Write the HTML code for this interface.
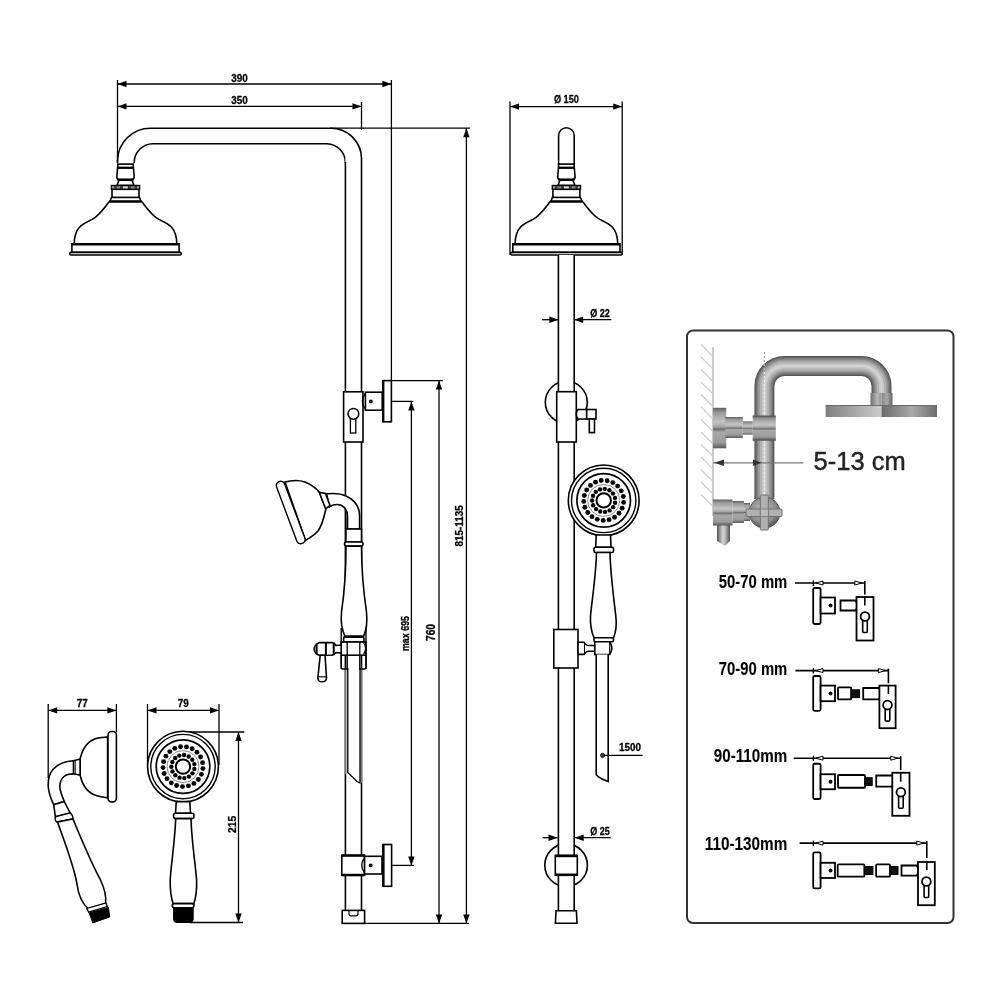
<!DOCTYPE html><html><head><meta charset="utf-8"><style>html,body{margin:0;padding:0;background:#fff}svg{display:block;will-change:transform}</style></head><body><svg width="1000" height="1000" viewBox="0 0 1000 1000">
<line x1="117.5" y1="84" x2="391.4" y2="84" stroke="#000" stroke-width="1.3"/>
<polygon points="117.50,84.00 126.50,80.80 126.50,87.20" fill="#000"/>
<polygon points="391.40,84.00 382.40,80.80 382.40,87.20" fill="#000"/>
<text x="239.5" y="81.6" font-family="Liberation Sans" font-size="11.5" font-weight="bold" text-anchor="middle" fill="#000" stroke="#000" stroke-width="0.3" textLength="16.5" lengthAdjust="spacingAndGlyphs">390</text>
<line x1="117.5" y1="106.4" x2="361.5" y2="106.4" stroke="#000" stroke-width="1.3"/>
<polygon points="117.50,106.40 126.50,103.20 126.50,109.60" fill="#000"/>
<polygon points="361.50,106.40 352.50,103.20 352.50,109.60" fill="#000"/>
<text x="239.5" y="103.8" font-family="Liberation Sans" font-size="11.5" font-weight="bold" text-anchor="middle" fill="#000" stroke="#000" stroke-width="0.3" textLength="16.5" lengthAdjust="spacingAndGlyphs">350</text>
<line x1="117.5" y1="80" x2="117.5" y2="162" stroke="#000" stroke-width="1.3"/>
<line x1="391.4" y1="80" x2="391.4" y2="381" stroke="#000" stroke-width="1.3"/>
<line x1="361.5" y1="102" x2="361.5" y2="130" stroke="#000" stroke-width="1.3"/>
<line x1="330" y1="128.2" x2="470" y2="128.2" stroke="#000" stroke-width="1.3"/>
<line x1="466.4" y1="128.2" x2="466.4" y2="923.4" stroke="#000" stroke-width="1.3"/>
<polygon points="466.40,128.20 463.20,137.20 469.60,137.20" fill="#000"/>
<polygon points="466.40,923.40 463.20,914.40 469.60,914.40" fill="#000"/>
<text x="463.4" y="525.9" font-family="Liberation Sans" font-size="11.8" font-weight="bold" text-anchor="middle" fill="#000" stroke="#000" stroke-width="0.3" textLength="41.4" lengthAdjust="spacingAndGlyphs" transform="rotate(-90 463.4 525.9)">815-1135</text>
<line x1="391.4" y1="380.6" x2="442.8" y2="380.6" stroke="#000" stroke-width="1.3"/>
<line x1="439" y1="380.6" x2="439" y2="923.4" stroke="#000" stroke-width="1.3"/>
<polygon points="439.00,380.60 435.80,389.60 442.20,389.60" fill="#000"/>
<polygon points="439.00,923.40 435.80,914.40 442.20,914.40" fill="#000"/>
<text x="434.8" y="632.5" font-family="Liberation Sans" font-size="12" font-weight="bold" text-anchor="middle" fill="#000" stroke="#000" stroke-width="0.3" textLength="17" lengthAdjust="spacingAndGlyphs" transform="rotate(-90 434.8 632.5)">760</text>
<line x1="391.4" y1="401.4" x2="413.4" y2="401.4" stroke="#000" stroke-width="1.3"/>
<line x1="411.4" y1="401.4" x2="411.4" y2="865.4" stroke="#000" stroke-width="1.3"/>
<polygon points="411.40,401.40 408.20,410.40 414.60,410.40" fill="#000"/>
<polygon points="411.40,865.40 408.20,856.40 414.60,856.40" fill="#000"/>
<text x="409.2" y="633.5" font-family="Liberation Sans" font-size="10.5" font-weight="bold" text-anchor="middle" fill="#000" stroke="#000" stroke-width="0.3" textLength="35" lengthAdjust="spacingAndGlyphs" transform="rotate(-90 409.2 633.5)">max 695</text>
<line x1="364.6" y1="923.4" x2="469" y2="923.4" stroke="#000" stroke-width="1.3"/>
<line x1="391.6" y1="865.4" x2="414" y2="865.4" stroke="#000" stroke-width="1.3"/>
<path d="M117.5,163 L117.5,161 A33,33 0 0 1 150.5,128.2 L331,128.2 A30.5,30.5 0 0 1 361.5,158.7" fill="none" stroke="#000" stroke-width="1.6" />
<path d="M134.2,163 L134.2,162.5 A19,19 0 0 1 153,143.7 L327,143.7 A19,19 0 0 1 345.4,162.7" fill="none" stroke="#000" stroke-width="1.6" />
<rect x="345.4" y="158" width="16.1" height="752" fill="#fff" stroke="none"/>
<line x1="345.4" y1="162" x2="345.4" y2="910.4" stroke="#000" stroke-width="1.6"/>
<line x1="361.5" y1="158" x2="361.5" y2="910.4" stroke="#000" stroke-width="1.6"/>
<rect x="345.4" y="668" width="2.4" height="106" fill="#bdbdbd"/>
<rect x="360" y="668" width="1.6" height="115" fill="#bdbdbd"/>
<path d="M347.8,668 L347.8,772.5 L357,781.5 L360,783 L360,668" fill="#fff" stroke="#000" stroke-width="1.3" />
<path d="M109.6,201.3 C105.5,206 99.5,215.5 92.1,219.4 C83.5,223.5 74.5,226.5 74.2,243.8 L176.8,243.8 C176.5,226.5 167.5,223.5 158.9,219.4 C151.5,215.5 145.5,206 141.4,201.3 Z" fill="#fff" stroke="#000" stroke-width="1.6"/>
<rect x="71.9" y="243.8" width="107.2" height="8.6" fill="#fff" stroke="#000" stroke-width="1.6"/>
<line x1="71.9" y1="244.2" x2="179.1" y2="244.2" stroke="#000" stroke-width="2.6"/>
<rect x="69.7" y="252.4" width="111.6" height="2.6" rx="1.3" fill="#fff" stroke="#000" stroke-width="1.6"/>
<path d="M111.5,197.2 L139.5,197.2 L141.1,201.6 L109.9,201.6 Z" fill="#fff" stroke="#000" stroke-width="1.6"/>
<line x1="110.0" y1="201.4" x2="141.0" y2="201.4" stroke="#000" stroke-width="2.2"/>
<rect x="112.0" y="189.3" width="27" height="8.1" fill="#fff" stroke="#000" stroke-width="1.6"/>
<rect x="111.3" y="185.4" width="28.4" height="3.9" fill="#3a3a3a" stroke="#000" stroke-width="1.2"/>
<rect x="112.3" y="186.4" width="1.6" height="2" fill="#bbb"/>
<rect x="116.5" y="186.4" width="3.6" height="2" fill="#8a8a8a"/>
<rect x="123.1" y="186.4" width="4.8" height="2" fill="#e2e2e2"/>
<rect x="130.9" y="186.4" width="3.6" height="2" fill="#8a8a8a"/>
<rect x="137.1" y="186.4" width="1.6" height="2" fill="#bbb"/>
<path d="M119.0,180.3 L132.0,180.3 L133.9,185.2 L117.1,185.2 Z" fill="#fff" stroke="#000" stroke-width="1.6"/>
<path d="M117.6,167.7 L133.4,167.7 L134.2,177 Q134.2,179.6 131.5,179.6 L119.5,179.6 Q116.8,179.6 116.8,177 Z" fill="#fff" stroke="#000" stroke-width="1.6"/>
<line x1="117.3" y1="179.6" x2="133.7" y2="179.6" stroke="#000" stroke-width="2"/>
<rect x="117.7" y="164.1" width="15.6" height="3.6" fill="#fff" stroke="#000" stroke-width="1.6"/>
<line x1="117.7" y1="167.7" x2="133.3" y2="167.7" stroke="#000" stroke-width="2"/>
<rect x="343.6" y="391.8" width="19.4" height="50.2" rx="0" fill="#fff" stroke="#000" stroke-width="1.6"/>
<rect x="350.4" y="417.8" width="5.4" height="15.2" rx="0" fill="#fff" stroke="#000" stroke-width="1.3"/>
<circle cx="353.4" cy="413.8" r="5.4" fill="#fff" stroke="#000" stroke-width="1.5"/>
<rect x="365.4" y="392.2" width="16.8" height="18.0" rx="0" fill="#fff" stroke="#000" stroke-width="1.6"/>
<path d="M365.4,393.5 Q359.2,401.2 365.4,409" fill="none" stroke="#000" stroke-width="1.3" />
<circle cx="370.8" cy="401.4" r="1.9" fill="#000" stroke="#000" stroke-width="0"/>
<rect x="382.8" y="380.6" width="8.6" height="41.2" rx="0" fill="#fff" stroke="#000" stroke-width="1.6"/>
<line x1="383.2" y1="380.6" x2="383.2" y2="421.8" stroke="#000" stroke-width="2.4"/>
<path d="M326.6,493.8 C334,493 340,493 346,496 C355,500 359.6,507 359.6,516 L359.6,529 L347.5,529 L347.5,516 C347.5,509 343,504.5 337,504.5 C333,504.5 331,505.5 329.5,507 Z" fill="#fff" stroke="#000" stroke-width="1.6" />
<line x1="345.9" y1="511" x2="345.9" y2="529" stroke="#000" stroke-width="1.2"/>
<path d="M285,482 C292,480 299,480 305,482 C311,484.5 316,488 319.5,492.5 L326,508.5 C324,516 323,524 318,531 C314,536 309,538 305.5,540.5 Z" fill="#fff" stroke="#000" stroke-width="1.6" />
<path d="M319.2,492.2 L325.5,493.5 L330,505.5 L325.6,508.8 Z" fill="#fff" stroke="#000" stroke-width="1.6" />
<rect x="-4.3" y="-33" width="8.6" height="66" rx="4.2" fill="#fff" stroke="#000" stroke-width="1.4" transform="translate(290.7 512.5) rotate(-20.5)"/>
<rect x="345.9" y="529" width="15.6" height="13" rx="0" fill="#fff" stroke="#000" stroke-width="1.6"/>
<rect x="344.6" y="542" width="18.4" height="4" rx="1.5" fill="#fff" stroke="#000" stroke-width="1.6"/>
<path d="M346,546.2 C346,570 344,595 341.5,612 C340.5,622 342,630 345,636.3 L363.5,636.3 C366.5,630 367.5,622 366.5,612 C364,595 361.5,570 361.5,546.2 Z" fill="#fff" stroke="#000" stroke-width="1.6" />
<rect x="343.9" y="636.3" width="19.4" height="6.0" rx="1.5" fill="#fff" stroke="#000" stroke-width="1.6"/>
<line x1="341.2" y1="628" x2="341.2" y2="669" stroke="#000" stroke-width="1.4"/>
<line x1="366" y1="628" x2="366" y2="669" stroke="#000" stroke-width="1.4"/>
<rect x="343.6" y="637.2" width="20.4" height="4.8" rx="1.5" fill="#fff" stroke="#000" stroke-width="1.6"/>
<rect x="341.2" y="642" width="24.6" height="13.2" rx="0" fill="#fff" stroke="#000" stroke-width="1.6"/>
<path d="M363.5,642.5 Q367.5,648.6 363.5,654.7" fill="none" stroke="#000" stroke-width="1.2" />
<line x1="347.2" y1="642" x2="347.2" y2="655.2" stroke="#000" stroke-width="1.3"/>
<line x1="359.8" y1="642" x2="359.8" y2="655.2" stroke="#000" stroke-width="1.3"/>
<path d="M341.2,655.2 L341.2,667.5 Q341.2,669 343,669 L347.2,669 L347.2,655.2" fill="none" stroke="#000" stroke-width="1.4" />
<path d="M359.8,655.2 L359.8,669 L364.2,669 Q366,669 366,667.5 L366,655.2" fill="none" stroke="#000" stroke-width="1.4" />
<path d="M341.2,645 L336,645.5 Q334,642.6 332,642.6 L319,642.6 Q314.2,645 314.2,648.9 Q314.2,653 319,655.2 L332,655.2 Q334,655.2 336,652.5 L341.2,653 Z" fill="#fff" stroke="#000" stroke-width="1.6" />
<line x1="316.6" y1="643.5" x2="316.6" y2="654.3" stroke="#000" stroke-width="2.0"/>
<line x1="325.9" y1="642.6" x2="325.9" y2="655.2" stroke="#000" stroke-width="2.0"/>
<line x1="333.7" y1="642.6" x2="333.7" y2="655.2" stroke="#000" stroke-width="2.0"/>
<path d="M320.2,655.2 L325,655.2 L326.5,677.5 Q326.5,681.8 322.2,681.8 Q317.8,681.8 317.9,677.5 Z" fill="#fff" stroke="#000" stroke-width="1.6" />
<line x1="318.3" y1="676.8" x2="326.2" y2="676.8" stroke="#000" stroke-width="1.1"/>
<rect x="341.8" y="855.3" width="22.8" height="20.0" rx="0" fill="#fff" stroke="#000" stroke-width="1.6"/>
<line x1="341.8" y1="855.6" x2="364.6" y2="855.6" stroke="#000" stroke-width="2.4"/>
<line x1="341.8" y1="875" x2="364.6" y2="875" stroke="#000" stroke-width="2.4"/>
<rect x="364.6" y="856.3" width="17.4" height="17.7" rx="0" fill="#fff" stroke="#000" stroke-width="1.6"/>
<path d="M364.6,857.5 Q358.8,865.2 364.6,873" fill="none" stroke="#000" stroke-width="1.3" />
<circle cx="370.7" cy="865.4" r="1.9" fill="#000" stroke="#000" stroke-width="0"/>
<rect x="383" y="844.5" width="8.6" height="41.8" rx="0" fill="#fff" stroke="#000" stroke-width="1.6"/>
<line x1="383.4" y1="844.5" x2="383.4" y2="886.3" stroke="#000" stroke-width="2.4"/>
<rect x="342.2" y="910.4" width="22.4" height="13.0" rx="0" fill="#fff" stroke="#000" stroke-width="1.6"/>
<path d="M349,910.4 L349,914 Q349,915.8 351,915.8 L356,915.8 Q358,915.8 358,914 L358,910.4" fill="none" stroke="#000" stroke-width="1.2" />
<line x1="510" y1="101.5" x2="510" y2="255" stroke="#000" stroke-width="1.3"/>
<line x1="622.2" y1="101.5" x2="622.2" y2="255" stroke="#000" stroke-width="1.3"/>
<line x1="510" y1="106.6" x2="622.2" y2="106.6" stroke="#000" stroke-width="1.3"/>
<polygon points="510.00,106.60 519.00,103.40 519.00,109.80" fill="#000"/>
<polygon points="622.20,106.60 613.20,103.40 613.20,109.80" fill="#000"/>
<text x="566.4" y="103.2" font-family="Liberation Sans" font-size="11.5" font-weight="bold" text-anchor="middle" fill="#000" stroke="#000" stroke-width="0.3" textLength="25" lengthAdjust="spacingAndGlyphs">Ø 150</text>
<path d="M558.6,165 L558.6,135.5 A7.8,7.8 0 0 1 574.2,135.5 L574.2,165" fill="#fff" stroke="#000" stroke-width="1.6" />
<path d="M550.5,201.3 C546.4,206 540.4,215.5 533.0,219.4 C524.4,223.5 515.4,226.5 515.1,243.8 L617.7,243.8 C617.4,226.5 608.4,223.5 599.8,219.4 C592.4,215.5 586.4,206 582.3,201.3 Z" fill="#fff" stroke="#000" stroke-width="1.6"/>
<rect x="512.8" y="243.8" width="107.2" height="8.6" fill="#fff" stroke="#000" stroke-width="1.6"/>
<line x1="512.8" y1="244.2" x2="620.0" y2="244.2" stroke="#000" stroke-width="2.6"/>
<rect x="510.6" y="252.4" width="111.6" height="2.6" rx="1.3" fill="#fff" stroke="#000" stroke-width="1.6"/>
<path d="M552.4,197.2 L580.4,197.2 L582.0,201.6 L550.8,201.6 Z" fill="#fff" stroke="#000" stroke-width="1.6"/>
<line x1="550.9" y1="201.4" x2="581.9" y2="201.4" stroke="#000" stroke-width="2.2"/>
<rect x="552.9" y="189.3" width="27" height="8.1" fill="#fff" stroke="#000" stroke-width="1.6"/>
<rect x="552.2" y="185.4" width="28.4" height="3.9" fill="#3a3a3a" stroke="#000" stroke-width="1.2"/>
<rect x="553.2" y="186.4" width="1.6" height="2" fill="#bbb"/>
<rect x="557.4" y="186.4" width="3.6" height="2" fill="#8a8a8a"/>
<rect x="564.0" y="186.4" width="4.8" height="2" fill="#e2e2e2"/>
<rect x="571.8" y="186.4" width="3.6" height="2" fill="#8a8a8a"/>
<rect x="578.0" y="186.4" width="1.6" height="2" fill="#bbb"/>
<path d="M559.9,180.3 L572.9,180.3 L574.8,185.2 L558.0,185.2 Z" fill="#fff" stroke="#000" stroke-width="1.6"/>
<path d="M558.5,167.7 L574.3,167.7 L575.1,177 Q575.1,179.6 572.4,179.6 L560.4,179.6 Q557.7,179.6 557.7,177 Z" fill="#fff" stroke="#000" stroke-width="1.6"/>
<line x1="558.2" y1="179.6" x2="574.6" y2="179.6" stroke="#000" stroke-width="2"/>
<rect x="558.6" y="164.1" width="15.6" height="3.6" fill="#fff" stroke="#000" stroke-width="1.6"/>
<line x1="558.6" y1="167.7" x2="574.2" y2="167.7" stroke="#000" stroke-width="2"/>
<circle cx="566.3" cy="402.3" r="21" fill="none" stroke="#000" stroke-width="1.6"/>
<circle cx="566.1" cy="865.2" r="21.3" fill="none" stroke="#000" stroke-width="1.6"/>
<rect x="558.4" y="255" width="15.8" height="656" fill="#fff" stroke="none"/>
<line x1="558.4" y1="255" x2="558.4" y2="910.8" stroke="#000" stroke-width="1.6"/>
<line x1="574.2" y1="255" x2="574.2" y2="910.8" stroke="#000" stroke-width="1.6"/>
<line x1="542" y1="319.7" x2="558.4" y2="319.7" stroke="#000" stroke-width="1.3"/>
<polygon points="558.40,319.70 549.40,316.50 549.40,322.90" fill="#000"/>
<line x1="574.2" y1="319.7" x2="611.3" y2="319.7" stroke="#000" stroke-width="1.3"/>
<polygon points="574.20,319.70 583.20,316.50 583.20,322.90" fill="#000"/>
<text x="600" y="316.8" font-family="Liberation Sans" font-size="11" font-weight="bold" text-anchor="middle" fill="#000" stroke="#000" stroke-width="0.3" textLength="19.5" lengthAdjust="spacingAndGlyphs">Ø 22</text>
<rect x="556.7" y="391.7" width="19.6" height="50.3" rx="0" fill="#fff" stroke="#000" stroke-width="1.6"/>
<path d="M586.7,409.5 L578,409.5 Q574.5,414.2 578,419 L586.7,419 Z" fill="#fff" stroke="#000" stroke-width="1.6" />
<rect x="586.7" y="409.5" width="9.3" height="9.5" rx="0" fill="#fff" stroke="#000" stroke-width="1.6"/>
<rect x="589.3" y="419" width="5.2" height="13.6" rx="0" fill="#fff" stroke="#000" stroke-width="1.6"/>
<circle cx="603.7" cy="500.4" r="35.4" fill="#fff" stroke="#000" stroke-width="1.6"/>
<circle cx="603.7" cy="500.4" r="32.2" fill="none" stroke="#000" stroke-width="1.4"/>
<circle cx="603.7" cy="500.4" r="26.8" fill="none" stroke="#000" stroke-width="1.7"/>
<circle cx="603.7" cy="500.4" r="16" fill="none" stroke="#888" stroke-width="1.0"/>
<circle cx="623.60" cy="502.40" r="2.45" fill="#000"/>
<circle cx="622.13" cy="508.17" r="2.45" fill="#000"/>
<circle cx="619.02" cy="513.26" r="2.45" fill="#000"/>
<circle cx="614.55" cy="517.20" r="2.45" fill="#000"/>
<circle cx="609.11" cy="519.65" r="2.45" fill="#000"/>
<circle cx="603.20" cy="520.39" r="2.45" fill="#000"/>
<circle cx="597.33" cy="519.36" r="2.45" fill="#000"/>
<circle cx="592.02" cy="516.64" r="2.45" fill="#000"/>
<circle cx="587.75" cy="512.47" r="2.45" fill="#000"/>
<circle cx="584.90" cy="507.24" r="2.45" fill="#000"/>
<circle cx="583.72" cy="501.39" r="2.45" fill="#000"/>
<circle cx="584.32" cy="495.46" r="2.45" fill="#000"/>
<circle cx="586.64" cy="489.97" r="2.45" fill="#000"/>
<circle cx="590.47" cy="485.40" r="2.45" fill="#000"/>
<circle cx="595.48" cy="482.17" r="2.45" fill="#000"/>
<circle cx="601.22" cy="480.55" r="2.45" fill="#000"/>
<circle cx="607.18" cy="480.70" r="2.45" fill="#000"/>
<circle cx="612.83" cy="482.60" r="2.45" fill="#000"/>
<circle cx="617.67" cy="486.09" r="2.45" fill="#000"/>
<circle cx="621.27" cy="490.84" r="2.45" fill="#000"/>
<circle cx="623.30" cy="496.44" r="2.45" fill="#000"/>
<circle cx="615.07" cy="502.70" r="2.2" fill="#000"/>
<circle cx="613.15" cy="507.13" r="2.2" fill="#000"/>
<circle cx="609.59" cy="510.39" r="2.2" fill="#000"/>
<circle cx="605.02" cy="511.92" r="2.2" fill="#000"/>
<circle cx="600.22" cy="511.47" r="2.2" fill="#000"/>
<circle cx="596.02" cy="509.09" r="2.2" fill="#000"/>
<circle cx="593.15" cy="505.22" r="2.2" fill="#000"/>
<circle cx="592.10" cy="500.51" r="2.2" fill="#000"/>
<circle cx="593.06" cy="495.78" r="2.2" fill="#000"/>
<circle cx="595.86" cy="491.85" r="2.2" fill="#000"/>
<circle cx="600.01" cy="489.40" r="2.2" fill="#000"/>
<circle cx="604.80" cy="488.85" r="2.2" fill="#000"/>
<circle cx="609.40" cy="490.30" r="2.2" fill="#000"/>
<circle cx="613.02" cy="493.49" r="2.2" fill="#000"/>
<circle cx="615.02" cy="497.88" r="2.2" fill="#000"/>
<circle cx="603.7" cy="500.4" r="7.2" fill="#fff" stroke="#000" stroke-width="2.0"/>
<path d="M596.2,535 L610.5,535 L611,547.2 L595.7,547.2 Z" fill="#fff" stroke="#000" stroke-width="1.6" />
<rect x="594" y="547.2" width="19.5" height="5.3" rx="1.5" fill="#fff" stroke="#000" stroke-width="1.6"/>
<path d="M596.5,552.5 C596,575 592,600 590.5,616 C590,626 591.5,632 594,637.8 L613.5,637.8 C616,632 617,626 615.8,616 C614,600 610.5,575 610,552.5 Z" fill="#fff" stroke="#000" stroke-width="1.6" />
<rect x="594" y="637.8" width="19.5" height="3.9" rx="1.5" fill="#fff" stroke="#000" stroke-width="1.6"/>
<rect x="553.8" y="629.5" width="24.2" height="38.5" rx="0" fill="#fff" stroke="#000" stroke-width="1.6"/>
<path d="M578,642.3 L584,642.3 Q586,645.5 588,645.5 L594.8,645.5 L594.8,651.2 L588,651.2 Q586,651.2 584,654.4 L578,654.4 Z" fill="#fff" stroke="#000" stroke-width="1.6" />
<line x1="584.5" y1="642.3" x2="584.5" y2="654.4" stroke="#000" stroke-width="1.1"/>
<path d="M594.8,641.7 L609.7,641.7 Q614,648 609.7,654.5 L594.8,654.5 Z" fill="#fff" stroke="#000" stroke-width="1.6" />
<line x1="609.7" y1="641.7" x2="609.7" y2="654.5" stroke="#000" stroke-width="1.1"/>
<path d="M596.2,654.5 L596.2,774.8 Q600,779 608.2,781.4 L608.2,654.5" fill="#fff" stroke="#000" stroke-width="1.6" />
<circle cx="602.6" cy="755.4" r="2.1" fill="#444" stroke="#000" stroke-width="0.8"/>
<line x1="604" y1="755.4" x2="642.7" y2="755.4" stroke="#000" stroke-width="1.3"/>
<text x="630" y="751.3" font-family="Liberation Sans" font-size="11" font-weight="bold" text-anchor="middle" fill="#000" stroke="#000" stroke-width="0.3" textLength="22" lengthAdjust="spacingAndGlyphs">1500</text>
<line x1="542.5" y1="837.7" x2="557.5" y2="837.7" stroke="#000" stroke-width="1.3"/>
<polygon points="557.50,837.70 548.50,834.50 548.50,840.90" fill="#000"/>
<line x1="574.7" y1="837.7" x2="610.7" y2="837.7" stroke="#000" stroke-width="1.3"/>
<polygon points="574.70,837.70 583.70,834.50 583.70,840.90" fill="#000"/>
<text x="600" y="834.8" font-family="Liberation Sans" font-size="11.5" font-weight="bold" text-anchor="middle" fill="#000" stroke="#000" stroke-width="0.3" textLength="19.5" lengthAdjust="spacingAndGlyphs">Ø 25</text>
<rect x="555.3" y="855.5" width="22.0" height="19.7" rx="0" fill="#fff" stroke="#000" stroke-width="1.6"/>
<line x1="555.3" y1="855.9" x2="577.3" y2="855.9" stroke="#000" stroke-width="2.6"/>
<line x1="555.3" y1="874.8" x2="577.3" y2="874.8" stroke="#000" stroke-width="2.6"/>
<path d="M556,910.8 L576.4,910.8 L577,923.2 L555.4,923.2 Z" fill="#fff" stroke="#000" stroke-width="1.6" />
<line x1="48.2" y1="704" x2="48.2" y2="778" stroke="#000" stroke-width="1.3"/>
<line x1="116.4" y1="704" x2="116.4" y2="732.5" stroke="#000" stroke-width="1.3"/>
<line x1="48.2" y1="710.4" x2="116.4" y2="710.4" stroke="#000" stroke-width="1.3"/>
<polygon points="48.20,710.40 57.20,707.20 57.20,713.60" fill="#000"/>
<polygon points="116.40,710.40 107.40,707.20 107.40,713.60" fill="#000"/>
<text x="82.2" y="707.4" font-family="Liberation Sans" font-size="11" font-weight="bold" text-anchor="middle" fill="#000" stroke="#000" stroke-width="0.3" textLength="11" lengthAdjust="spacingAndGlyphs">77</text>
<path d="M73.5,760.7 C66,761 58,764 53,769.5 C49,774 48,780 48.2,786 C48.5,792 50.5,798 53.7,804.7 L64.2,801.4 C62,796 60,791 59.8,787 C59.8,783 61,779 64,776.5 C66,774.8 69,773.9 73.5,773.9" fill="#fff" stroke="#000" stroke-width="1.6" />
<path d="M107.6,737 C104,737.2 101,737.4 98,738 C89,740 83,746 80.1,759 L80.1,775 C83,788 89,794 98,796 C101,796.8 104,797.3 107.6,798 Z" fill="#fff" stroke="#000" stroke-width="1.6" />
<path d="M73.5,760.7 L80.1,759 L80.1,775 L73.5,773.9 Z" fill="#fff" stroke="#000" stroke-width="1.6" />
<line x1="75.2" y1="760.5" x2="75.2" y2="774" stroke="#000" stroke-width="1.0"/>
<rect x="108" y="731.5" width="8.4" height="70.4" rx="3.6" fill="#fff" stroke="#000" stroke-width="1.6"/>
<path d="M53.7,804.7 L64.2,801.4 L70.2,812.9 L55.4,816.8 Z" fill="#fff" stroke="#000" stroke-width="1.6" />
<path d="M55.4,816.8 L70.2,812.9 Q72.8,814.8 73,819 L56.8,822 Q54.6,820 55.4,816.8 Z" fill="#fff" stroke="#000" stroke-width="1.4" />
<path d="M57.5,822 C65,843 74,866 77,884 C78.5,896 83,904 88,908.5 L105.6,903.6 C106.5,895 104,887 100,879 C93,866 80,836 73,819 Z" fill="#fff" stroke="#000" stroke-width="1.6" />
<path d="M86.8,908.5 L106,903 L107.2,906.6 L88.6,912.2 Z" fill="#fff" stroke="#000" stroke-width="1.3" />
<path d="M89.2,913 L108.4,907.5 L109.8,916.9 L92.8,922.9 Z" fill="#000" stroke="#000" stroke-width="1" />
<line x1="147.5" y1="704" x2="147.5" y2="765" stroke="#000" stroke-width="1.3"/>
<line x1="219" y1="704" x2="219" y2="765" stroke="#000" stroke-width="1.3"/>
<line x1="147.5" y1="710.4" x2="219" y2="710.4" stroke="#000" stroke-width="1.3"/>
<polygon points="147.50,710.40 156.50,707.20 156.50,713.60" fill="#000"/>
<polygon points="219.00,710.40 210.00,707.20 210.00,713.60" fill="#000"/>
<text x="183.3" y="707.4" font-family="Liberation Sans" font-size="11" font-weight="bold" text-anchor="middle" fill="#000" stroke="#000" stroke-width="0.3" textLength="11" lengthAdjust="spacingAndGlyphs">79</text>
<line x1="183" y1="732" x2="244.3" y2="732" stroke="#000" stroke-width="1.3"/>
<line x1="238.5" y1="732" x2="238.5" y2="922.5" stroke="#000" stroke-width="1.3"/>
<polygon points="238.50,732.00 235.30,741.00 241.70,741.00" fill="#000"/>
<polygon points="238.50,922.50 235.30,913.50 241.70,913.50" fill="#000"/>
<line x1="190" y1="922.5" x2="243" y2="922.5" stroke="#000" stroke-width="1.3"/>
<text x="235.7" y="824.4" font-family="Liberation Sans" font-size="11.5" font-weight="bold" text-anchor="middle" fill="#000" stroke="#000" stroke-width="0.3" textLength="17" lengthAdjust="spacingAndGlyphs" transform="rotate(-90 235.7 824.4)">215</text>
<circle cx="183" cy="766.6" r="35.4" fill="#fff" stroke="#000" stroke-width="1.6"/>
<circle cx="183" cy="766.6" r="32.2" fill="none" stroke="#000" stroke-width="1.4"/>
<circle cx="183" cy="766.6" r="26.8" fill="none" stroke="#000" stroke-width="1.7"/>
<circle cx="183" cy="766.6" r="16" fill="none" stroke="#888" stroke-width="1.0"/>
<circle cx="202.90" cy="768.60" r="2.45" fill="#000"/>
<circle cx="201.43" cy="774.37" r="2.45" fill="#000"/>
<circle cx="198.32" cy="779.46" r="2.45" fill="#000"/>
<circle cx="193.85" cy="783.40" r="2.45" fill="#000"/>
<circle cx="188.41" cy="785.85" r="2.45" fill="#000"/>
<circle cx="182.50" cy="786.59" r="2.45" fill="#000"/>
<circle cx="176.63" cy="785.56" r="2.45" fill="#000"/>
<circle cx="171.32" cy="782.84" r="2.45" fill="#000"/>
<circle cx="167.05" cy="778.67" r="2.45" fill="#000"/>
<circle cx="164.20" cy="773.44" r="2.45" fill="#000"/>
<circle cx="163.02" cy="767.59" r="2.45" fill="#000"/>
<circle cx="163.62" cy="761.66" r="2.45" fill="#000"/>
<circle cx="165.94" cy="756.17" r="2.45" fill="#000"/>
<circle cx="169.77" cy="751.60" r="2.45" fill="#000"/>
<circle cx="174.78" cy="748.37" r="2.45" fill="#000"/>
<circle cx="180.52" cy="746.75" r="2.45" fill="#000"/>
<circle cx="186.48" cy="746.90" r="2.45" fill="#000"/>
<circle cx="192.13" cy="748.80" r="2.45" fill="#000"/>
<circle cx="196.97" cy="752.29" r="2.45" fill="#000"/>
<circle cx="200.57" cy="757.04" r="2.45" fill="#000"/>
<circle cx="202.60" cy="762.64" r="2.45" fill="#000"/>
<circle cx="194.37" cy="768.90" r="2.2" fill="#000"/>
<circle cx="192.45" cy="773.33" r="2.2" fill="#000"/>
<circle cx="188.89" cy="776.59" r="2.2" fill="#000"/>
<circle cx="184.32" cy="778.12" r="2.2" fill="#000"/>
<circle cx="179.52" cy="777.67" r="2.2" fill="#000"/>
<circle cx="175.32" cy="775.29" r="2.2" fill="#000"/>
<circle cx="172.45" cy="771.42" r="2.2" fill="#000"/>
<circle cx="171.40" cy="766.71" r="2.2" fill="#000"/>
<circle cx="172.36" cy="761.98" r="2.2" fill="#000"/>
<circle cx="175.16" cy="758.05" r="2.2" fill="#000"/>
<circle cx="179.31" cy="755.60" r="2.2" fill="#000"/>
<circle cx="184.10" cy="755.05" r="2.2" fill="#000"/>
<circle cx="188.70" cy="756.50" r="2.2" fill="#000"/>
<circle cx="192.32" cy="759.69" r="2.2" fill="#000"/>
<circle cx="194.32" cy="764.08" r="2.2" fill="#000"/>
<circle cx="183" cy="766.6" r="7.2" fill="#fff" stroke="#000" stroke-width="2.0"/>
<path d="M176.3,801.6 L189.8,801.6 L190.5,813.2 L175.5,813.2 Z" fill="#fff" stroke="#000" stroke-width="1.6" />
<rect x="173.6" y="813.2" width="20.3" height="5.4" rx="2" fill="#fff" stroke="#000" stroke-width="1.6"/>
<path d="M175.7,818.6 C175,840 171,865 170.2,880 C170,890 171,897 173,903.6 L194,903.6 C196,897 197,890 196.6,880 C195.5,865 191.5,840 191,818.6 Z" fill="#fff" stroke="#000" stroke-width="1.6" />
<rect x="172.3" y="903.6" width="21.6" height="4.1" rx="2" fill="#fff" stroke="#000" stroke-width="1.6"/>
<path d="M173.6,907.7 L193.2,907.7 L193.2,919.5 Q193.2,922.5 190,922.5 L176.8,922.5 Q173.6,922.5 173.6,919.5 Z" fill="#000" stroke="#000" stroke-width="1" />
<defs><linearGradient id="gx" x1="0" y1="0" x2="1" y2="0"><stop offset="0" stop-color="#4e4e4e"/><stop offset="0.18" stop-color="#8a8a8a"/><stop offset="0.45" stop-color="#d4d4d4"/><stop offset="0.62" stop-color="#bdbdbd"/><stop offset="0.85" stop-color="#7c7c7c"/><stop offset="1" stop-color="#505050"/></linearGradient><linearGradient id="gy" x1="0" y1="0" x2="0" y2="1"><stop offset="0" stop-color="#4e4e4e"/><stop offset="0.18" stop-color="#8a8a8a"/><stop offset="0.45" stop-color="#d4d4d4"/><stop offset="0.62" stop-color="#bdbdbd"/><stop offset="0.85" stop-color="#7c7c7c"/><stop offset="1" stop-color="#505050"/></linearGradient><linearGradient id="gd" x1="0" y1="0" x2="1" y2="0"><stop offset="0" stop-color="#707070"/><stop offset="0.3" stop-color="#a8a8a8"/><stop offset="0.5" stop-color="#b8b8b8"/><stop offset="1" stop-color="#6a6a6a"/></linearGradient><radialGradient id="gr" cx="0.45" cy="0.4" r="0.6"><stop offset="0" stop-color="#bdbdbd"/><stop offset="0.7" stop-color="#8c8c8c"/><stop offset="1" stop-color="#555"/></radialGradient><linearGradient id="gt" x1="0" y1="0" x2="0" y2="1"><stop offset="0" stop-color="#5e5e5e"/><stop offset="0.12" stop-color="#9a9a9a"/><stop offset="0.35" stop-color="#c4c4c4"/><stop offset="0.47" stop-color="#a5a5a5"/><stop offset="0.53" stop-color="#6e6e6e"/><stop offset="0.6" stop-color="#a8a8a8"/><stop offset="0.85" stop-color="#9c9c9c"/><stop offset="1" stop-color="#5a5a5a"/></linearGradient></defs>
<rect x="687" y="330.5" width="266.5" height="592.5" rx="6" fill="none" stroke="#333" stroke-width="2"/>
<line x1="713" y1="347" x2="713" y2="516" stroke="#aaa" stroke-width="1.2"/>
<line x1="701" y1="344.5" x2="713" y2="356.5" stroke="#cdcdcd" stroke-width="1.1"/>
<line x1="701" y1="357.0" x2="713" y2="369.0" stroke="#cdcdcd" stroke-width="1.1"/>
<line x1="701" y1="369.5" x2="713" y2="381.5" stroke="#cdcdcd" stroke-width="1.1"/>
<line x1="701" y1="382.0" x2="713" y2="394.0" stroke="#cdcdcd" stroke-width="1.1"/>
<line x1="701" y1="394.5" x2="713" y2="406.5" stroke="#cdcdcd" stroke-width="1.1"/>
<line x1="701" y1="407.0" x2="713" y2="419.0" stroke="#cdcdcd" stroke-width="1.1"/>
<line x1="701" y1="419.5" x2="713" y2="431.5" stroke="#cdcdcd" stroke-width="1.1"/>
<line x1="701" y1="432.0" x2="713" y2="444.0" stroke="#cdcdcd" stroke-width="1.1"/>
<line x1="701" y1="444.5" x2="713" y2="456.5" stroke="#cdcdcd" stroke-width="1.1"/>
<line x1="701" y1="457.0" x2="713" y2="469.0" stroke="#cdcdcd" stroke-width="1.1"/>
<line x1="701" y1="469.5" x2="713" y2="481.5" stroke="#cdcdcd" stroke-width="1.1"/>
<line x1="701" y1="482.0" x2="713" y2="494.0" stroke="#cdcdcd" stroke-width="1.1"/>
<line x1="701" y1="494.5" x2="713" y2="506.5" stroke="#cdcdcd" stroke-width="1.1"/>
<path d="M764.4,499 L764.4,386 A20,20 0 0 1 784.4,366 L861.5,366 A20,20 0 0 1 881.5,386 L881.5,394" fill="none" stroke="#555" stroke-width="20"/>
<path d="M764.4,499 L764.4,386 A20,20 0 0 1 784.4,366 L861.5,366 A20,20 0 0 1 881.5,386 L881.5,394" fill="none" stroke="#6a6a6a" stroke-width="18"/>
<path d="M764.4,499 L764.4,386 A20,20 0 0 1 784.4,366 L861.5,366 A20,20 0 0 1 881.5,386 L881.5,394" fill="none" stroke="#828282" stroke-width="15.5"/>
<path d="M764.4,499 L764.4,386 A20,20 0 0 1 784.4,366 L861.5,366 A20,20 0 0 1 881.5,386 L881.5,394" fill="none" stroke="#9c9c9c" stroke-width="12.5"/>
<path d="M764.4,499 L764.4,386 A20,20 0 0 1 784.4,366 L861.5,366 A20,20 0 0 1 881.5,386 L881.5,394" fill="none" stroke="#b3b3b3" stroke-width="9"/>
<path d="M764.4,499 L764.4,386 A20,20 0 0 1 784.4,366 L861.5,366 A20,20 0 0 1 881.5,386 L881.5,394" fill="none" stroke="#c6c6c6" stroke-width="5"/>
<path d="M764.4,499 L764.4,386 A20,20 0 0 1 784.4,366 L861.5,366 A20,20 0 0 1 881.5,386 L881.5,394" fill="none" stroke="#d2d2d2" stroke-width="2"/>
<linearGradient id="dl" x1="0" y1="0" x2="1" y2="0"><stop offset="0" stop-color="#7e7e7e"/><stop offset="1" stop-color="#cdcdcd"/></linearGradient>
<linearGradient id="dr" x1="0" y1="0" x2="1" y2="0"><stop offset="0" stop-color="#6a6a6a"/><stop offset="0.55" stop-color="#a9a9a9"/><stop offset="1" stop-color="#6c6c6c"/></linearGradient>
<linearGradient id="nl" x1="0" y1="0" x2="1" y2="0"><stop offset="0" stop-color="#6e6e6e"/><stop offset="0.6" stop-color="#b5b5b5"/><stop offset="1" stop-color="#9a9a9a"/></linearGradient>
<linearGradient id="nr" x1="0" y1="0" x2="1" y2="0"><stop offset="0" stop-color="#8a8a8a"/><stop offset="0.5" stop-color="#a8a8a8"/><stop offset="1" stop-color="#666"/></linearGradient>
<rect x="870.5" y="393" width="11" height="12" fill="url(#nl)"/>
<rect x="881.5" y="393" width="11" height="12" fill="url(#nr)"/>
<rect x="825.6" y="405" width="55.9" height="12" fill="url(#dl)"/>
<rect x="881.5" y="405" width="55.5" height="12" fill="url(#dr)"/>
<line x1="825.6" y1="405.5" x2="937" y2="405.5" stroke="#6a6a6a" stroke-width="1"/>
<line x1="764.4" y1="352" x2="764.4" y2="498" stroke="#e6e6e6" stroke-width="1.2" stroke-dasharray="2 2"/>
<line x1="764.4" y1="352" x2="764.4" y2="370" stroke="#aaa" stroke-width="1.2" stroke-dasharray="2 2"/>
<rect x="713" y="407.8" width="13.3" height="40.5" fill="url(#gt)"/>
<rect x="725.2" y="417" width="17.6" height="21" fill="url(#gt)"/>
<rect x="742.8" y="421.4" width="10" height="13.2" fill="url(#gt)"/>
<rect x="752.7" y="416" width="23.1" height="24.2" fill="url(#gt)"/>
<line x1="752.7" y1="416" x2="775.8" y2="416" stroke="#555" stroke-width="1"/>
<line x1="752.7" y1="440.2" x2="775.8" y2="440.2" stroke="#555" stroke-width="1"/>
<line x1="713" y1="462.8" x2="803.4" y2="462.8" stroke="#7a7a7a" stroke-width="1.2"/>
<polygon points="714.00,462.80 724.00,459.60 724.00,466.00" fill="#333"/>
<polygon points="761.50,462.80 753.00,459.60 753.00,466.00" fill="#333"/>
<text x="813.6" y="470.2" font-family="Liberation Sans" font-size="26" font-weight="normal" text-anchor="start" fill="#222" stroke="#222" stroke-width="0.45" textLength="92" lengthAdjust="spacingAndGlyphs">5-13 cm</text>
<path d="M717,525 L730,525 L730,541 L725,546 L717,541 Z" fill="url(#gx)"/>
<rect x="713" y="499.5" width="19.5" height="26" fill="url(#gt)"/>
<rect x="732.5" y="501" width="11.5" height="22" fill="url(#gt)"/>
<rect x="744" y="503" width="6" height="18" fill="url(#gt)"/>
<circle cx="764.5" cy="512.5" r="15.5" fill="url(#gr)" stroke="#555" stroke-width="1"/>
<rect x="746" y="509" width="36" height="7.5" rx="1" fill="#b0b0b0" stroke="#6a6a6a" stroke-width="0.9"/>
<rect x="760.3" y="495" width="8" height="35" rx="1" fill="#b0b0b0" stroke="#6a6a6a" stroke-width="0.9"/>
<rect x="760.3" y="509" width="8" height="7.5" fill="#bcbcbc" stroke="#777" stroke-width="0.8"/>
<text x="718.8" y="588.4" font-family="Liberation Sans" font-size="18.2" font-weight="bold" text-anchor="start" fill="#000" stroke="#000" stroke-width="0.1" textLength="68.5" lengthAdjust="spacingAndGlyphs">50-70 mm</text>
<line x1="795" y1="583" x2="864.8" y2="583" stroke="#000" stroke-width="1.6"/>
<line x1="813.4" y1="580.5" x2="813.4" y2="586" stroke="#000" stroke-width="1.4"/>
<path d="M816,583 L823,581 L823,585 Z" fill="#fff" stroke="#000" stroke-width="1"/>
<path d="M861.8,583 L854.8,581 L854.8,585 Z" fill="#fff" stroke="#000" stroke-width="1"/>
<line x1="864.8" y1="581" x2="864.8" y2="594.5" stroke="#000" stroke-width="1.6"/>
<rect x="813.2" y="588" width="7.4" height="36" rx="1.5" fill="#fff" stroke="#000" stroke-width="1.8"/>
<rect x="820.6" y="597.5" width="14.4" height="16.0" rx="0" fill="#fff" stroke="#000" stroke-width="1.8"/>
<circle cx="830.5" cy="605.5" r="2" fill="#000" stroke="#000" stroke-width="0"/>
<path d="M840.5,600.5 L855.5,600.5 Q859.5,605.5 855.5,610.5 L840.5,610.5 Z" fill="#fff" stroke="#000" stroke-width="1.8"/>
<rect x="856.5" y="597" width="17.0" height="43.5" rx="0" fill="#fff" stroke="#000" stroke-width="1.8"/>
<rect x="862.7" y="618" width="4.6" height="14.5" rx="1" fill="#fff" stroke="#000" stroke-width="1.6"/>
<circle cx="865.0" cy="616.5" r="4.4" fill="#fff" stroke="#000" stroke-width="1.8"/>
<line x1="864.8" y1="597" x2="864.8" y2="605.5" stroke="#000" stroke-width="1.6"/>
<text x="718.8" y="674.7" font-family="Liberation Sans" font-size="18.2" font-weight="bold" text-anchor="start" fill="#000" stroke="#000" stroke-width="0.1" textLength="68.5" lengthAdjust="spacingAndGlyphs">70-90 mm</text>
<line x1="795.4" y1="670.6" x2="888.4" y2="670.6" stroke="#000" stroke-width="1.6"/>
<line x1="813.4" y1="668.1" x2="813.4" y2="673.6" stroke="#000" stroke-width="1.4"/>
<path d="M816,670.6 L823,668.6 L823,672.6 Z" fill="#fff" stroke="#000" stroke-width="1"/>
<path d="M885.4,670.6 L878.4,668.6 L878.4,672.6 Z" fill="#fff" stroke="#000" stroke-width="1"/>
<line x1="888.4" y1="668.6" x2="888.4" y2="683.2" stroke="#000" stroke-width="1.6"/>
<rect x="813.2" y="676" width="7.4" height="34.8" rx="1.5" fill="#fff" stroke="#000" stroke-width="1.8"/>
<rect x="820.6" y="685.6" width="14.4" height="15.6" rx="0" fill="#fff" stroke="#000" stroke-width="1.8"/>
<circle cx="830.5" cy="693.4000000000001" r="2" fill="#000" stroke="#000" stroke-width="0"/>
<rect x="838" y="687.4" width="13.2" height="12.0" rx="1" fill="#fff" stroke="#000" stroke-width="1.8"/>
<rect x="851.2" y="689.8" width="8.4" height="7.8" rx="0" fill="#111" stroke="#000" stroke-width="1"/>
<path d="M863.2,688 L878.8,688 Q882.8,693.7 878.8,699.4 L863.2,699.4 Z" fill="#fff" stroke="#000" stroke-width="1.8"/>
<rect x="879.4" y="685.6" width="16.2" height="42.6" rx="0" fill="#fff" stroke="#000" stroke-width="1.8"/>
<rect x="885.2" y="706.6" width="4.6" height="14.5" rx="1" fill="#fff" stroke="#000" stroke-width="1.6"/>
<circle cx="887.5" cy="705.1" r="4.4" fill="#fff" stroke="#000" stroke-width="1.8"/>
<line x1="888.4" y1="685.6" x2="888.4" y2="694" stroke="#000" stroke-width="1.6"/>
<text x="713.8" y="761.9" font-family="Liberation Sans" font-size="18.2" font-weight="bold" text-anchor="start" fill="#000" stroke="#000" stroke-width="0.1" textLength="73.5" lengthAdjust="spacingAndGlyphs">90-110mm</text>
<line x1="793.75" y1="758.2" x2="900.7" y2="758.2" stroke="#000" stroke-width="1.6"/>
<line x1="813.4" y1="755.7" x2="813.4" y2="761.2" stroke="#000" stroke-width="1.4"/>
<path d="M816,758.2 L823,756.2 L823,760.2 Z" fill="#fff" stroke="#000" stroke-width="1"/>
<path d="M897.7,758.2 L890.7,756.2 L890.7,760.2 Z" fill="#fff" stroke="#000" stroke-width="1"/>
<line x1="900.7" y1="756.2" x2="900.7" y2="770" stroke="#000" stroke-width="1.6"/>
<rect x="813.2" y="763.75" width="7.4" height="35.25" rx="1.5" fill="#fff" stroke="#000" stroke-width="1.8"/>
<rect x="820.6" y="774.25" width="14.4" height="15.0" rx="0" fill="#fff" stroke="#000" stroke-width="1.8"/>
<circle cx="830.5" cy="781.75" r="2" fill="#000" stroke="#000" stroke-width="0"/>
<rect x="838" y="775" width="27" height="12.75" rx="1" fill="#fff" stroke="#000" stroke-width="1.8"/>
<rect x="865" y="777.7" width="7.2" height="7.8" rx="0" fill="#111" stroke="#000" stroke-width="1"/>
<path d="M876.25,775.5 L892,775.5 Q896,781.1 892,786.7 L876.25,786.7 Z" fill="#fff" stroke="#000" stroke-width="1.8"/>
<rect x="892.3" y="772.75" width="17.2" height="43.05" rx="0" fill="#fff" stroke="#000" stroke-width="1.8"/>
<rect x="898.6" y="793.75" width="4.6" height="14.5" rx="1" fill="#fff" stroke="#000" stroke-width="1.6"/>
<circle cx="900.9" cy="792.25" r="4.4" fill="#fff" stroke="#000" stroke-width="1.8"/>
<line x1="900.7" y1="772.75" x2="900.7" y2="781.7" stroke="#000" stroke-width="1.6"/>
<text x="704.8" y="849.9" font-family="Liberation Sans" font-size="18.2" font-weight="bold" text-anchor="start" fill="#000" stroke="#000" stroke-width="0.1" textLength="82.5" lengthAdjust="spacingAndGlyphs">110-130mm</text>
<line x1="799.6" y1="843.1" x2="926.8" y2="843.1" stroke="#000" stroke-width="1.6"/>
<line x1="813.4" y1="840.6" x2="813.4" y2="846.1" stroke="#000" stroke-width="1.4"/>
<path d="M816,843.1 L823,841.1 L823,845.1 Z" fill="#fff" stroke="#000" stroke-width="1"/>
<path d="M923.8,843.1 L916.8,841.1 L916.8,845.1 Z" fill="#fff" stroke="#000" stroke-width="1"/>
<line x1="926.8" y1="841.1" x2="926.8" y2="858" stroke="#000" stroke-width="1.6"/>
<rect x="813.2" y="852.4" width="7.4" height="36.0" rx="1.5" fill="#fff" stroke="#000" stroke-width="1.8"/>
<rect x="820.6" y="862.8" width="14.4" height="15.2" rx="0" fill="#fff" stroke="#000" stroke-width="1.8"/>
<circle cx="830.5" cy="870.4" r="2" fill="#000" stroke="#000" stroke-width="0"/>
<rect x="837.7" y="864.4" width="26.7" height="12.3" rx="1" fill="#fff" stroke="#000" stroke-width="1.8"/>
<rect x="864.4" y="866.5" width="8.5" height="8.0" rx="0" fill="#111" stroke="#000" stroke-width="1"/>
<rect x="876.1" y="864.4" width="13.9" height="12.3" rx="1" fill="#fff" stroke="#000" stroke-width="1.8"/>
<rect x="890" y="866.5" width="8" height="8.0" rx="0" fill="#111" stroke="#000" stroke-width="1"/>
<path d="M901.5,865.5 L916.6,865.5 Q920.6,870.55 916.6,875.6 L901.5,875.6 Z" fill="#fff" stroke="#000" stroke-width="1.8"/>
<rect x="918" y="862" width="16.8" height="43.2" rx="0" fill="#fff" stroke="#000" stroke-width="1.8"/>
<rect x="924.1" y="883" width="4.6" height="14.5" rx="1" fill="#fff" stroke="#000" stroke-width="1.6"/>
<circle cx="926.4" cy="881.5" r="4.4" fill="#fff" stroke="#000" stroke-width="1.8"/>
<line x1="926.8" y1="862" x2="926.8" y2="870" stroke="#000" stroke-width="1.6"/>
</svg></body></html>
